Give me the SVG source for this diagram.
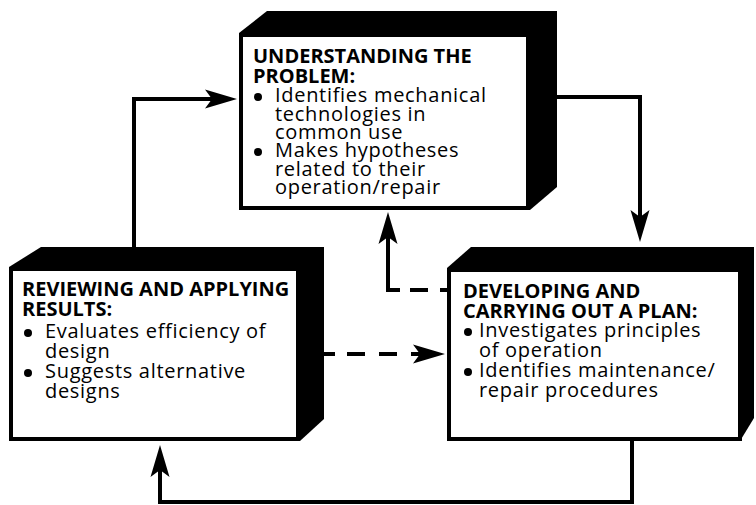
<svg xmlns="http://www.w3.org/2000/svg" width="756" height="505" viewBox="0 0 756 505">
  <style>
    .solid { fill: #000; }
    .face { fill: #fff; stroke: #000; stroke-width: 4; }
    .head { font-family: "Open Sans", "DejaVu Sans", sans-serif; font-weight: 700; font-size: 20px; fill: #000; }
    .body { font-family: "Open Sans", "DejaVu Sans", sans-serif; font-weight: 500; font-size: 20px; fill: #000; letter-spacing: 0.7px; }
    .dot { fill: #000; }
    .line { fill: none; stroke: #000; stroke-width: 4; stroke-linejoin: miter; }
  </style>
  <defs>
    <marker id="arrow" markerUnits="userSpaceOnUse" viewBox="0 -10 32 20" markerWidth="32" markerHeight="20" refX="7" refY="0" orient="auto" overflow="visible">
      <path d="M0,-9.5 L32,0 L0,9.5 L7,0 Z" fill="#000"/>
    </marker>
  </defs>

  <rect width="756" height="505" fill="#fff"/>

  <!-- connectors -->
  <g id="connectors">
    <path class="line" d="M134,248 V99 H212" marker-end="url(#arrow)"/>
    <path class="line" d="M557,97 H640 V217" marker-end="url(#arrow)"/>
    <path class="line" d="M447,290 H399" stroke-dasharray="7 12 18 15"/>
    <path class="line" d="M400,290 H388 V237" marker-end="url(#arrow)"/>
    <path class="line" d="M323,354 H420" stroke-dasharray="12 12 18 14 18 14 30" marker-end="url(#arrow)"/>
    <path class="line" d="M632,441 V502 H160 V470" marker-end="url(#arrow)"/>
  </g>

  <!-- node: understanding the problem -->
  <g id="understanding">
    <path class="solid" d="M239,33 L267,11 L557,11 L557,187 L530,210 L239,210 Z"/>
    <rect class="face" x="241" y="35" width="287" height="173"/>
    <text class="head" x="253" y="63">UNDERSTANDING THE</text>
    <text class="head" x="253" y="83">PROBLEM:</text>
    <circle class="dot" cx="258" cy="97" r="4"/>
    <text class="body" x="275" y="102">Identifies mechanical</text>
    <text class="body" x="275" y="121">technologies in</text>
    <text class="body" x="275" y="139">common use</text>
    <circle class="dot" cx="258" cy="152" r="4"/>
    <text class="body" x="275" y="157">Makes hypotheses</text>
    <text class="body" x="275" y="176">related to their</text>
    <text class="body" x="275" y="194">operation/repair</text>
  </g>

  <!-- node: reviewing and applying results -->
  <g id="reviewing">
    <path class="solid" d="M9,267 L41,247 L324,247 L324,419 L300,441 L9,441 Z"/>
    <rect class="face" x="11" y="269" width="287" height="170"/>
    <text class="head" x="22" y="296">REVIEWING AND APPLYING</text>
    <text class="head" x="22" y="316">RESULTS:</text>
    <circle class="dot" cx="28" cy="333" r="4"/>
    <text class="body" x="45" y="338">Evaluates efficiency of</text>
    <text class="body" x="45" y="358">design</text>
    <circle class="dot" cx="28" cy="373" r="4"/>
    <text class="body" x="45" y="378">Suggests alternative</text>
    <text class="body" x="45" y="398">designs</text>
  </g>

  <!-- node: developing and carrying out a plan -->
  <g id="developing">
    <path class="solid" d="M447,268 L471,247 L754,247 L754,418 L740,441 L447,441 Z"/>
    <rect class="face" x="449" y="270" width="291" height="169"/>
    <text class="head" x="463" y="298">DEVELOPING AND</text>
    <text class="head" x="463" y="318">CARRYING OUT A PLAN:</text>
    <circle class="dot" cx="468" cy="332" r="4"/>
    <text class="body" x="479" y="337">Investigates principles</text>
    <text class="body" x="479" y="357">of operation</text>
    <circle class="dot" cx="468" cy="372" r="4"/>
    <text class="body" x="479" y="377">Identifies maintenance/</text>
    <text class="body" x="479" y="397">repair procedures</text>
  </g>
</svg>
